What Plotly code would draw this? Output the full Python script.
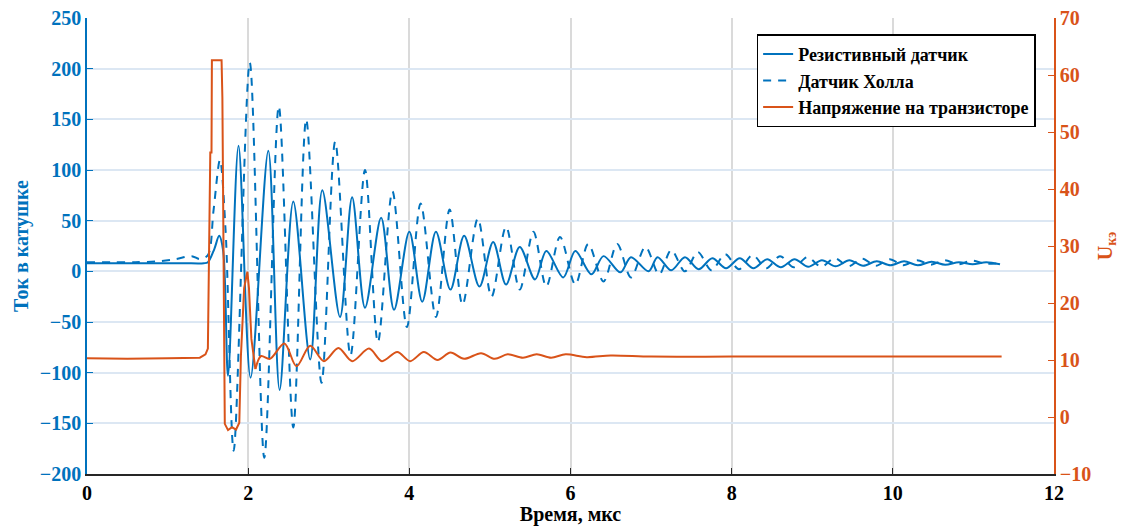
import plotly.graph_objects as go

# --- Резистивный датчик (solid blue), extrema ---
t_res = [0.0, 0.4, 0.8, 1.2, 1.45, 1.50, 1.58, 1.64, 1.69, 1.75, 1.88, 2.03, 2.25, 2.39, 2.56, 2.77, 2.92,
         3.14, 3.29, 3.45, 3.65, 3.81, 4.00, 4.16, 4.33, 4.51, 4.68, 4.87, 5.04, 5.20,
         5.37, 5.56, 5.70, 5.91, 6.06, 6.26, 6.41, 6.62, 6.75, 6.97, 7.08, 7.25, 7.42,
         7.59, 7.76, 7.93, 8.10, 8.27, 8.44, 8.61, 8.78, 8.95, 9.12, 9.29, 9.46, 9.63,
         9.80, 9.97, 10.14, 10.31, 10.48, 10.65, 10.82, 10.99, 11.16, 11.33]
v_res = [8, 8, 8, 8, 8, 9, 22, 35, 20, -103, 124, -105, 119, -117, 69, -87, 80,
         -45, 73, -36, 53, -38, 39, -30, 39, -18, 35, -15, 29, -13,
         24, -8, 20, -6, 20, -3, 15, -1, 14, 0, 14, 1, 14,
         2, 13, 3, 13, 3, 12, 4, 12, 4.5, 11, 5, 11, 5.5,
         10, 6, 10, 6, 9.5, 6.5, 9, 7, 9, 7]

# --- Датчик Холла (dashed blue) ---
t_hall = [0.0, 0.3, 0.6, 0.9, 1.1, 1.3, 1.40, 1.50, 1.57, 1.65, 1.72, 1.82, 2.02, 2.20, 2.38,
          2.56, 2.72, 2.91, 3.08, 3.27, 3.45, 3.61, 3.79, 3.97, 4.14, 4.33, 4.50, 4.66,
          4.85, 5.02, 5.20, 5.37, 5.54, 5.70, 5.87, 6.06, 6.22, 6.41, 6.58, 6.75, 6.93,
          7.10, 7.25, 7.42, 7.58, 7.75, 7.92, 8.09, 8.26, 8.43, 8.60, 8.77, 8.94, 9.11,
          9.28, 9.45, 9.62, 9.79, 9.96, 10.13, 10.30, 10.47, 10.64, 10.81, 10.98, 11.15, 11.33]
v_hall = [9, 9, 9, 10, 12, 15, 12, 16, 60, 110, 40, -177, 206, -184, 163,
          -154, 150, -110, 128, -83, 100, -70, 79, -55, 67, -45, 61, -33,
          52, -25, 44, -18, 39, -15, 34, -13, 27, -10, 27, -6, 24,
          -3, 21, 0, 19, 1, 17, 2, 16, 3, 15, 4, 14, 4.5,
          13, 5, 12.5, 5.5, 12, 6, 11, 6.5, 11, 7, 10.5, 7.5, 8]

# --- Напряжение на транзисторе (orange, right axis): pulse part ---
t_vp = [0.0, 0.5, 1.0, 1.40, 1.47, 1.50, 1.53, 1.545, 1.55, 1.67, 1.68, 1.70, 1.71,
        1.75, 1.80, 1.85, 1.89, 1.91, 1.95, 1.99, 2.01, 2.04, 2.09]
v_vp = [10.3, 10.2, 10.3, 10.4, 11, 12, 46.4, 46.4, 62.6, 62.6, 56, 12, -1.2,
        -2.3, -1.8, -2.2, -1, 10.7, 22.6, 25.5, 22.6, 13.7, 8.4]
# oscillation part
t_vo = [2.09, 2.16, 2.27, 2.45, 2.60, 2.77, 2.94, 3.12, 3.29, 3.50, 3.66, 3.85, 4.01,
        4.18, 4.35, 4.51, 4.68, 4.89, 5.06, 5.22, 5.41, 5.58, 5.76, 5.94, 6.2, 6.5,
        7.0, 8.0, 9.0, 10.0, 11.35]
v_vo = [8.4, 10.7, 10.2, 12.9, 8.9, 12.5, 9.8, 12.1, 9.8, 12.0, 9.8, 11.4, 9.8,
        11.4, 10.0, 11.3, 10.2, 11.2, 10.2, 11.0, 10.4, 11.0, 10.4, 11.0, 10.5, 10.8,
        10.6, 10.6, 10.6, 10.6, 10.6]

x_ticks = [0, 2, 4, 6, 8, 10, 12]
y_ticks = [-200, -150, -100, -50, 0, 50, 100, 150, 200, 250]
y2_ticks = [-10, 0, 10, 20, 30, 40, 50, 60, 70]

BLUE = "#0072BD"
ORANGE = "#D95319"
FONT = "Liberation Serif"

fig = go.Figure()
fig.add_trace(go.Scatter(x=t_res, y=v_res, mode="lines", name="Резистивный датчик",
                         line=dict(color=BLUE, width=2, shape="spline", smoothing=0.9)))
fig.add_trace(go.Scatter(x=t_hall, y=v_hall, mode="lines", name="Датчик Холла",
                         line=dict(color=BLUE, width=2, dash="8px,7px", shape="spline", smoothing=0.9)))
fig.add_trace(go.Scatter(x=t_vp, y=v_vp, mode="lines", name="Напряжение на транзисторе",
                         legendgroup="u", yaxis="y2",
                         line=dict(color=ORANGE, width=2)))
fig.add_trace(go.Scatter(x=t_vo, y=v_vo, mode="lines", name="Напряжение на транзисторе",
                         legendgroup="u", showlegend=False, yaxis="y2",
                         line=dict(color=ORANGE, width=2, shape="spline", smoothing=0.9)))

# the page body has an 8px margin, so the figure is drawn 8px right and down
fig.update_layout(
    width=1129, height=518,
    margin=dict(l=79, r=83, t=10, b=52, autoexpand=False),
    paper_bgcolor="white", plot_bgcolor="white",
    font=dict(family=FONT, size=18, color="black", weight="bold"),
    xaxis=dict(range=[0, 12], tickvals=x_ticks, showgrid=True, gridcolor="#DADADA", gridwidth=1.5,
               showline=True, linecolor="#262626", linewidth=1.5, ticks="inside", ticklen=6,
               tickcolor="#262626", zeroline=False, automargin=False, ticklabeloverflow="allow",
               title=dict(text="Время, мкс", font=dict(size=20), standoff=12),
               tickfont=dict(size=20, weight="bold")),
    yaxis=dict(range=[-200, 250], tickvals=y_ticks, showgrid=True, gridcolor="#DCE7F3", gridwidth=1.5,
               showline=True, linecolor=BLUE, linewidth=1.5, ticks="inside", ticklen=6,
               tickcolor=BLUE, zeroline=False, automargin=False, ticklabeloverflow="allow",
               tickfont=dict(size=20, color=BLUE, weight="bold"),
               title=dict(text="Ток в катушке", font=dict(size=20, color=BLUE), standoff=6)),
    yaxis2=dict(range=[-10, 70], tickvals=y2_ticks, overlaying="y", side="right", showgrid=False,
                showline=True, linecolor=ORANGE, linewidth=1.5, ticks="inside", ticklen=6,
                tickcolor=ORANGE, zeroline=False, automargin=False, ticklabeloverflow="allow",
                tickfont=dict(size=20, color=ORANGE, weight="bold"),
                title=dict(text="U<sub>кэ</sub>", font=dict(size=20, color=ORANGE), standoff=8)),
    legend=dict(x=0.981, y=0.964, xanchor="right", yanchor="top", bgcolor="white",
                bordercolor="black", borderwidth=1.5, font=dict(size=18, weight="bold"),
                tracegroupgap=0),
    showlegend=True,
)

fig.write_html("out.html")
